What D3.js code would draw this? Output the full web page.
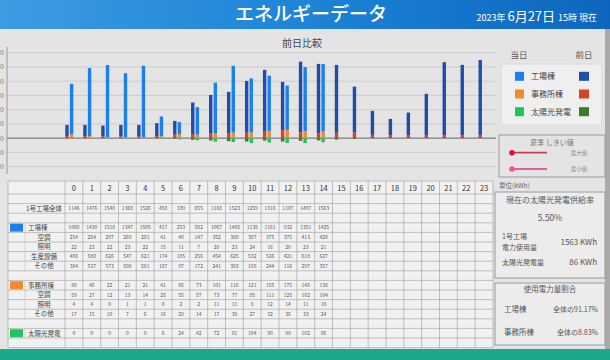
<!DOCTYPE html>
<html>
<head>
<meta charset="utf-8">
<script src="https://cdn.jsdelivr.net/npm/d3@7"></script>
<style>
  body { margin: 0; background: #e4e4e4; }
  svg { display: block; font-family: "Noto Sans CJK JP", "Noto Sans", sans-serif; }
</style>
</head>
<body>
<div id="main"></div>
<script>
// hours / tick labels
const hours = [0,1,2,3,4,5,6,7,8,9,10,11,12,13,14,15,16,17,18,19,20,21,22,23];
const yTicks = [-600,-300,0,300,600,900,1200,1500,1800];

// 当日 (today, up to 14h)
const todayFactory = [1066,1430,1518,1347,1505,417,253,582,1067,1405,1138,1161,932,1351,1425];
const todayOffice = [80,46,22,21,21,41,86,73,101,118,121,155,175,146,138];
const todaySolar = [0,0,0,0,0,6,24,42,72,81,104,90,99,102,86];

// 前日 (previous day)
const prevFactory = [235,238,225,240,240,271,284,666,811,865,1086,1288,1015,1487,1459,1428,966,505,346,479,868,1540,1483,1588];
const prevOffice = [45,42,40,40,40,45,80,85,100,110,120,150,170,125,105,115,120,70,60,60,65,60,60,60];
const prevSolar = [0,0,0,0,0,0,10,35,50,63,70,50,70,55,45,30,15,0,0,0,0,0,0,0];

// table rows
const plantTotal = [1146,1476,1540,1368,1526,458,339,655,1168,1523,1259,1316,1107,1497,1563];
const factoryAC = [254,284,297,269,281,41,40,147,352,380,387,375,375,413,420];
const factoryLight = [22,23,22,23,22,15,11,7,20,23,24,16,20,23,21];
const factoryProd = [406,586,626,547,621,174,105,256,454,625,532,526,421,618,627];
const factoryOther = [384,537,573,508,581,187,97,172,241,383,195,244,116,297,357];
const officeAC = [59,27,12,13,14,25,55,57,73,77,85,111,125,102,104];
const officeLight = [4,4,0,1,1,0,2,2,11,11,9,12,14,11,10];
const officeOther = [17,15,10,7,6,16,29,14,17,30,27,32,36,33,24];

const colToday = {factory: '#1a80f0', office: '#f08a2c', solar: '#1fc45a'};
const colPrev = {factory: '#1f4ea6', office: '#cf4526', solar: '#3d7a2e'};

const width = 610, height = 360;
const svg = d3.select('#main').append('svg').attr('width', width).attr('height', height);

// background panels
svg.append('rect').attr('width', width).attr('height', height).attr('fill', '#e4e4e4');
const hg = svg.append('defs').append('linearGradient').attr('id', 'hdr');
hg.append('stop').attr('offset', '0%').attr('stop-color', '#3d9be2');
hg.append('stop').attr('offset', '50%').attr('stop-color', '#1d84d8');
hg.append('stop').attr('offset', '100%').attr('stop-color', '#0d66bd');
svg.append('rect').attr('width', width).attr('height', 29).attr('fill', 'url(#hdr)');
svg.append('rect').attr('x', 605).attr('y', 29).attr('width', 5).attr('height', 320).attr('fill', '#a9a9a9');
svg.append('rect').attr('y', 349).attr('width', width).attr('height', 11).attr('fill', '#1aa98b');

svg.append('text').text('エネルギーデータ').attr('x', 311).attr('y', 21).attr('text-anchor', 'middle')
  .attr('fill', '#fff').style('font-size', '19px').style('font-weight', 500);
const dt = svg.append('text').attr('x', 597).attr('y', 21).attr('text-anchor', 'end').attr('fill', '#fff');
dt.append('tspan').text('2023年 ').style('font-size', '9px');
dt.append('tspan').text('6月27日 ').style('font-size', '13px');
dt.append('tspan').text('15時 現在').style('font-size', '9px');

svg.append('text').text('前日比較').attr('x', 302).attr('y', 47).attr('text-anchor', 'middle')
  .attr('fill', '#444').style('font-size', '10px');

// chart
const x = d3.scaleBand().domain(hours).range([60.3, 491.5]);
const y = d3.scaleLinear().domain([-754, 1920]).range([174, 47]);
const bw = 3.4;

svg.append('g').selectAll('line').data(yTicks).join('line')
  .attr('x1', 7).attr('x2', 496).attr('y1', d => y(d)).attr('y2', d => y(d))
  .attr('stroke', d => d === 0 ? '#7d7d7d' : '#c9c9c9').attr('stroke-width', d => d === 0 ? 1.2 : 0.9);
svg.append('g').selectAll('text').data(yTicks).join('text')
  .attr('x', 4).attr('y', d => y(d) + 2.5).attr('text-anchor', 'end')
  .attr('fill', '#777').style('font-size', '7px').text(d => d);
svg.append('line').attr('x1', 7).attr('x2', 7).attr('y1', 47).attr('y2', 174).attr('stroke', '#999');

const prevData = hours.map(h => ({h, factory: prevFactory[h], office: prevOffice[h], solar: prevSolar[h]}));
const todayData = todayFactory.map((f, h) => ({h, factory: f, office: todayOffice[h], solar: todaySolar[h]}));
const stack = d3.stack().keys(['office', 'factory']);

function drawBars(data, cols, dx) {
  const g = svg.append('g');
  stack(data).forEach(layer => {
    g.selectAll(null).data(layer).join('rect')
      .attr('x', d => x(d.data.h) + x.bandwidth() / 2 + dx - bw / 2)
      .attr('y', d => y(d[1]))
      .attr('width', bw)
      .attr('height', d => y(d[0]) - y(d[1]))
      .attr('fill', cols[layer.key]);
  });
  g.selectAll(null).data(data.filter(d => d.solar > 0)).join('rect')
    .attr('x', d => x(d.h) + x.bandwidth() / 2 + dx - bw / 2)
    .attr('y', y(0))
    .attr('width', bw)
    .attr('height', d => y(-d.solar) - y(0))
    .attr('fill', cols.solar);
}
drawBars(prevData, colPrev, -2.3);
drawBars(todayData, colToday, 2.3);

// legend
svg.append('text').text('当日').attr('x', 519).attr('y', 58).attr('text-anchor', 'middle').attr('fill', '#555').style('font-size', '8.5px');
svg.append('text').text('前日').attr('x', 584).attr('y', 58).attr('text-anchor', 'middle').attr('fill', '#555').style('font-size', '8.5px');
svg.append('rect').attr('x', 501).attr('y', 64).attr('width', 101).attr('height', 61).attr('rx', 4)
  .attr('fill', '#efefef').attr('stroke', '#dcdcdc');
const legendKeys = ['factory', 'office', 'solar'];
const legendNames = ['工場棟', '事務所棟', '太陽光発電'];
const ly = d3.scalePoint().domain(legendKeys).range([76.3, 111.7]);
const lg = svg.append('g').selectAll('g').data(legendKeys).join('g');
lg.append('rect').attr('x', 515).attr('y', d => ly(d) - 4.5).attr('width', 9).attr('height', 9).attr('fill', d => colToday[d]);
lg.append('rect').attr('x', 579).attr('y', d => ly(d) - 4.5).attr('width', 10).attr('height', 9).attr('fill', d => colPrev[d]);
lg.append('text').attr('x', 531).attr('y', d => ly(d) + 3).attr('fill', '#444').style('font-size', '8px')
  .text((d, i) => legendNames[i]);

// threshold box
svg.append('rect').attr('x', 499).attr('y', 135).attr('width', 106).attr('height', 42).attr('fill', 'none').attr('stroke', '#9a9a9a');
svg.append('text').text('夏季 しきい値').attr('x', 552).attr('y', 145).attr('text-anchor', 'middle').attr('fill', '#777').style('font-size', '7px');
const thr = [{name: '最大値', yy: 152.7, line: '#c2405c', dot: '#e0102c'}, {name: '最小値', yy: 169, line: '#e0609c', dot: '#ff4aa2'}];
const tg = svg.append('g').selectAll('g').data(thr).join('g');
tg.append('line').attr('x1', 512).attr('x2', 547).attr('y1', d => d.yy).attr('y2', d => d.yy).attr('stroke', d => d.line).attr('stroke-width', 1.8);
tg.append('circle').attr('cx', 512).attr('cy', d => d.yy).attr('r', 2.8).attr('fill', d => d.dot);
tg.append('text').attr('x', 579).attr('y', d => d.yy + 2.2).attr('text-anchor', 'middle').attr('fill', '#888').style('font-size', '5.5px').text(d => d.name);

// table
const tableRows = [
  {label: null},
  {label: null},
  {label: '1号工場全体', values: plantTotal},
  {label: null},
  {label: '工場棟', values: todayFactory, marker: colToday.factory, main: true},
  {label: '空調', values: factoryAC, sub: true},
  {label: '照明', values: factoryLight, sub: true},
  {label: '生産設備', values: factoryProd, sub: true},
  {label: 'その他', values: factoryOther, sub: true},
  {label: null},
  {label: '事務所棟', values: todayOffice, marker: colToday.office, main: true},
  {label: '空調', values: officeAC, sub: true},
  {label: '照明', values: officeLight, sub: true},
  {label: 'その他', values: officeOther, sub: true},
  {label: null},
  {label: '太陽光発電', values: todaySolar, marker: colToday.solar, main: true},
  {label: null}
];
const rowTop = i => i === 0 ? 181 : 194 + (i - 1) * 9.6;
const rowH = i => i === 0 ? 13 : 9.6;
const tx = d3.scaleBand().domain(hours).range([65, 493]);
const tL = 8, tR = 493, tT = 181, tB = rowTop(tableRows.length);

const tb = svg.append('g');
tb.append('rect').attr('x', tL).attr('y', tT).attr('width', tR - tL).attr('height', tB - tT).attr('fill', '#f1f1f1');
tb.selectAll('line.h').data(d3.range(tableRows.length + 1)).join('line')
  .attr('x1', tL).attr('x2', tR).attr('y1', i => rowTop(i)).attr('y2', i => rowTop(i))
  .attr('stroke', '#9c9c9c').attr('stroke-width', 0.6);
tb.selectAll('line.v').data([tL].concat(hours.map(h => tx(h)), [tR])).join('line')
  .attr('x1', d => d).attr('x2', d => d).attr('y1', tT).attr('y2', tB)
  .attr('stroke', '#9c9c9c').attr('stroke-width', 0.6);
tb.selectAll('text.hd').data(hours).join('text')
  .attr('x', h => tx(h) + tx.bandwidth() / 2).attr('y', rowTop(0) + 9.5).attr('text-anchor', 'middle')
  .attr('fill', '#333').style('font-size', '7.5px').text(h => h);

tableRows.forEach((r, i) => {
  if (!r.label) return;
  const cy = rowTop(i) + rowH(i) / 2;
  if (r.marker) {
    tb.append('rect').attr('x', 10).attr('y', rowTop(i) + 0.8).attr('width', 13).attr('height', 8).attr('fill', r.marker);
  }
  if (r.main || r.sub) {
    tb.append('line').attr('x1', 25).attr('x2', 25).attr('y1', rowTop(i)).attr('y2', rowTop(i) + rowH(i)).attr('stroke', '#b5b5b5').attr('stroke-width', 0.5);
  }
  tb.append('text').text(r.label)
    .attr('x', r.main ? 28 : 44).attr('y', cy + 2.3)
    .attr('text-anchor', r.main ? 'start' : 'middle')
    .attr('fill', '#444').style('font-size', '6.5px');
  tb.selectAll(null).data(r.values).join('text')
    .attr('x', (v, h) => tx(h) + tx.bandwidth() / 2).attr('y', cy + 1.8).attr('text-anchor', 'middle')
    .attr('fill', '#555').style('font-size', '5px').text(v => v);
});

// right info panels
svg.append('text').text('単位(kWh)').attr('x', 499).attr('y', 188).attr('fill', '#666').style('font-size', '6.5px');
svg.append('rect').attr('x', 495).attr('y', 192).attr('width', 110).attr('height', 86).attr('fill', '#ececec').attr('stroke', '#9a9a9a');
svg.append('text').text('現在の太陽光発電供給率').attr('x', 550).attr('y', 203).attr('text-anchor', 'middle').attr('fill', '#555').style('font-size', '8px');
svg.append('text').text('5.50%').attr('x', 550).attr('y', 221).attr('text-anchor', 'middle').attr('fill', '#555').style('font-size', '8.5px');
svg.append('text').text('1号工場').attr('x', 502).attr('y', 239).attr('fill', '#555').style('font-size', '7px');
svg.append('text').text('電力使用量').attr('x', 502).attr('y', 250).attr('fill', '#555').style('font-size', '7px');
svg.append('text').text('1563 KWh').attr('x', 597).attr('y', 245).attr('text-anchor', 'end').attr('fill', '#555').style('font-size', '8px');
svg.append('text').text('太陽光発電量').attr('x', 502).attr('y', 265).attr('fill', '#555').style('font-size', '7px');
svg.append('text').text('86 KWh').attr('x', 597).attr('y', 265).attr('text-anchor', 'end').attr('fill', '#555').style('font-size', '8px');

svg.append('rect').attr('x', 495).attr('y', 283).attr('width', 110).attr('height', 62).attr('fill', '#ececec').attr('stroke', '#9a9a9a');
svg.append('text').text('使用電力量割合').attr('x', 550).attr('y', 292).attr('text-anchor', 'middle').attr('fill', '#555').style('font-size', '7.5px');
svg.append('text').text('工場棟').attr('x', 504).attr('y', 312).attr('fill', '#555').style('font-size', '7.5px');
svg.append('text').text('全体の91.17%').attr('x', 598).attr('y', 312).attr('text-anchor', 'end').attr('fill', '#555').style('font-size', '7px');
svg.append('text').text('事務所棟').attr('x', 504).attr('y', 335).attr('fill', '#555').style('font-size', '7.5px');
svg.append('text').text('全体の8.83%').attr('x', 598).attr('y', 335).attr('text-anchor', 'end').attr('fill', '#555').style('font-size', '7px');
</script>
</body>
</html>
